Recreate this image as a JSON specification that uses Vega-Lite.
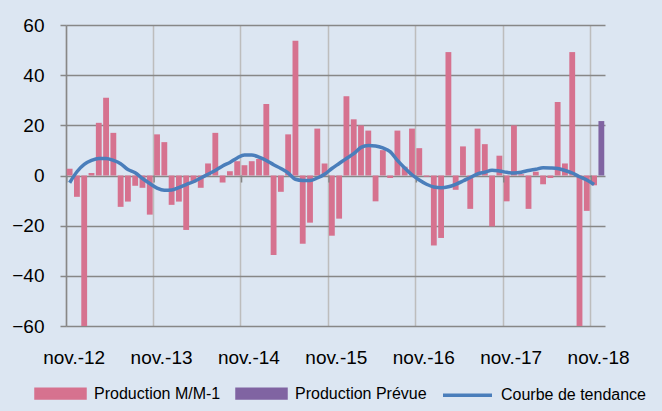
{
  "$schema": "https://vega.github.io/schema/vega-lite/v6.json",
  "width": 539,
  "height": 301,
  "autosize": "none",
  "padding": {"left": 66, "top": 25, "right": 57, "bottom": 85},
  "background": "#dce6f2",
  "config": {"view": {"stroke": null}, "font": "Liberation Sans"},
  "data": {"values": [
    {"m": "2012-11", "v": 2.7, "s": "Production M/M-1", "t": -2.9},
    {"m": "2012-12", "v": -8.5, "s": "Production M/M-1", "t": 1.5},
    {"m": "2013-01", "v": -60, "s": "Production M/M-1", "t": 4.4},
    {"m": "2013-02", "v": 1.0, "s": "Production M/M-1", "t": 6.0},
    {"m": "2013-03", "v": 21, "s": "Production M/M-1", "t": 6.8},
    {"m": "2013-04", "v": 31, "s": "Production M/M-1", "t": 6.8},
    {"m": "2013-05", "v": 17, "s": "Production M/M-1", "t": 6.0},
    {"m": "2013-06", "v": -12.5, "s": "Production M/M-1", "t": 4.7},
    {"m": "2013-07", "v": -10.4, "s": "Production M/M-1", "t": 2.4},
    {"m": "2013-08", "v": -4.1, "s": "Production M/M-1", "t": 1.1},
    {"m": "2013-09", "v": -4.9, "s": "Production M/M-1", "t": -1.2},
    {"m": "2013-10", "v": -15.6, "s": "Production M/M-1", "t": -3.2},
    {"m": "2013-11", "v": 16.4, "s": "Production M/M-1", "t": -5.0},
    {"m": "2013-12", "v": 13.3, "s": "Production M/M-1", "t": -5.9},
    {"m": "2014-01", "v": -11.7, "s": "Production M/M-1", "t": -5.8},
    {"m": "2014-02", "v": -10.4, "s": "Production M/M-1", "t": -4.8},
    {"m": "2014-03", "v": -21.7, "s": "Production M/M-1", "t": -3.6},
    {"m": "2014-04", "v": -2.8, "s": "Production M/M-1", "t": -2.5},
    {"m": "2014-05", "v": -4.9, "s": "Production M/M-1", "t": -1.0},
    {"m": "2014-06", "v": 4.8, "s": "Production M/M-1", "t": 0.5},
    {"m": "2014-07", "v": 17, "s": "Production M/M-1", "t": 2.0},
    {"m": "2014-08", "v": -2.8, "s": "Production M/M-1", "t": 3.8},
    {"m": "2014-09", "v": 1.7, "s": "Production M/M-1", "t": 5.2},
    {"m": "2014-10", "v": 5.7, "s": "Production M/M-1", "t": 7.0},
    {"m": "2014-11", "v": 4.1, "s": "Production M/M-1", "t": 8.2},
    {"m": "2014-12", "v": 5.7, "s": "Production M/M-1", "t": 8.2},
    {"m": "2015-01", "v": 6.6, "s": "Production M/M-1", "t": 7.3},
    {"m": "2015-02", "v": 28.5, "s": "Production M/M-1", "t": 6.0},
    {"m": "2015-03", "v": -31.7, "s": "Production M/M-1", "t": 4.3},
    {"m": "2015-04", "v": -6.5, "s": "Production M/M-1", "t": 2.8},
    {"m": "2015-05", "v": 16.4, "s": "Production M/M-1", "t": 1.0},
    {"m": "2015-06", "v": 53.7, "s": "Production M/M-1", "t": -1.5},
    {"m": "2015-07", "v": -27.2, "s": "Production M/M-1", "t": -2.0},
    {"m": "2015-08", "v": -18.8, "s": "Production M/M-1", "t": -2.0},
    {"m": "2015-09", "v": 18.7, "s": "Production M/M-1", "t": -1.0},
    {"m": "2015-10", "v": 4.8, "s": "Production M/M-1", "t": 0.5},
    {"m": "2015-11", "v": -24, "s": "Production M/M-1", "t": 2.8},
    {"m": "2015-12", "v": -17.2, "s": "Production M/M-1", "t": 4.8},
    {"m": "2016-01", "v": 31.6, "s": "Production M/M-1", "t": 6.8},
    {"m": "2016-02", "v": 22.4, "s": "Production M/M-1", "t": 8.7},
    {"m": "2016-03", "v": 20, "s": "Production M/M-1", "t": 11.2},
    {"m": "2016-04", "v": 17.9, "s": "Production M/M-1", "t": 12.0},
    {"m": "2016-05", "v": -10.3, "s": "Production M/M-1", "t": 11.8},
    {"m": "2016-06", "v": 10.1, "s": "Production M/M-1", "t": 11.0},
    {"m": "2016-07", "v": -1, "s": "Production M/M-1", "t": 9.5},
    {"m": "2016-08", "v": 17.9, "s": "Production M/M-1", "t": 6.0},
    {"m": "2016-09", "v": 3.5, "s": "Production M/M-1", "t": 3.0},
    {"m": "2016-10", "v": 18.7, "s": "Production M/M-1", "t": 0.3},
    {"m": "2016-11", "v": 10.9, "s": "Production M/M-1", "t": -1.8},
    {"m": "2016-12", "v": -0.5, "s": "Production M/M-1", "t": -3.5},
    {"m": "2017-01", "v": -27.9, "s": "Production M/M-1", "t": -4.6},
    {"m": "2017-02", "v": -24.9, "s": "Production M/M-1", "t": -4.9},
    {"m": "2017-03", "v": 49.2, "s": "Production M/M-1", "t": -4.5},
    {"m": "2017-04", "v": -5.7, "s": "Production M/M-1", "t": -3.5},
    {"m": "2017-05", "v": 11.6, "s": "Production M/M-1", "t": -2.2},
    {"m": "2017-06", "v": -13.3, "s": "Production M/M-1", "t": -0.8},
    {"m": "2017-07", "v": 18.7, "s": "Production M/M-1", "t": 0.6},
    {"m": "2017-08", "v": 12.5, "s": "Production M/M-1", "t": 1.3},
    {"m": "2017-09", "v": -20.3, "s": "Production M/M-1", "t": 2.1},
    {"m": "2017-10", "v": 7.9, "s": "Production M/M-1", "t": 1.8},
    {"m": "2017-11", "v": -10.3, "s": "Production M/M-1", "t": 1.3},
    {"m": "2017-12", "v": 20, "s": "Production M/M-1", "t": 1.0},
    {"m": "2018-01", "v": 0.5, "s": "Production M/M-1", "t": 1.3},
    {"m": "2018-02", "v": -13.3, "s": "Production M/M-1", "t": 2.0},
    {"m": "2018-03", "v": 1.5, "s": "Production M/M-1", "t": 2.5},
    {"m": "2018-04", "v": -3.5, "s": "Production M/M-1", "t": 3.1},
    {"m": "2018-05", "v": -1, "s": "Production M/M-1", "t": 3.0},
    {"m": "2018-06", "v": 29.3, "s": "Production M/M-1", "t": 2.8},
    {"m": "2018-07", "v": 4.8, "s": "Production M/M-1", "t": 2.0},
    {"m": "2018-08", "v": 49.2, "s": "Production M/M-1", "t": 1.0},
    {"m": "2018-09", "v": -60, "s": "Production M/M-1", "t": -0.5},
    {"m": "2018-10", "v": -14.1, "s": "Production M/M-1", "t": -1.8},
    {"m": "2018-11", "v": -3.9, "s": "Production M/M-1", "t": -3.6},
    {"m": "2018-12", "v": 21.7, "s": "Production Prévue", "t": null}
  ]},
  "encoding": {
    "x": {
      "field": "m",
      "type": "ordinal",
      "scale": {"paddingInner": 0.2, "paddingOuter": 0.1},
      "axis": {
        "title": null,
        "values": ["2012-11", "2013-11", "2014-11", "2015-11", "2016-11", "2017-11", "2018-11"],
        "labelExpr": "'nov.-' + slice(datum.value, 2, 4)",
        "bandPosition": -0.1,
        "labelOffset": 4.5,
        "labelAngle": 0,
        "labelAlign": "center",
        "labelFontSize": 19,
        "labelColor": "#000000",
        "labelPadding": 22,
        "domain": false,
        "ticks": false,
        "grid": true,
        "gridColor": "#bdbdbd",
        "gridWidth": 1.5
      }
    }
  },
  "layer": [
    {
      "mark": {"type": "bar"},
      "encoding": {
        "y": {
          "field": "v",
          "type": "quantitative",
          "scale": {"domain": [-60, 60]},
          "axis": {
            "title": null,
            "values": [-60, -40, -20, 0, 20, 40, 60],
            "grid": true,
            "gridColor": "#878787",
            "gridWidth": 1.5,
            "domainColor": "#878787",
            "domainWidth": 1.5,
            "tickColor": "#878787",
            "tickSize": 6,
            "tickWidth": 1.5,
            "labelFontSize": 19,
            "labelColor": "#000000",
            "labelPadding": 16
          }
        },
        "color": {
          "field": "s",
          "type": "nominal",
          "scale": {
            "domain": ["Production M/M-1", "Production Prévue", "Courbe de tendance"],
            "range": ["#d6728f", "#8064a2", "#4a7ebb"]
          },
          "legend": {
            "title": null,
            "orient": "none",
            "direction": "horizontal",
            "legendX": -32,
            "legendY": 342,
            "symbolType": "M-1,-0.18H1V0.18H-1Z",
            "symbolSize": 2401,
            "labelFontSize": 16,
            "labelColor": "#000000",
            "labelOffset": 7,
            "columnPadding": 9,
            "encode": {
              "symbols": {
                "update": {
                  "shape": {"signal": "datum.value === 'Courbe de tendance' ? 'stroke' : 'M-1,-0.18H1V0.18H-1Z'"},
                  "fill": {"signal": "datum.value === 'Production M/M-1' ? '#d6728f' : (datum.value === 'Production Prévue' ? '#8064a2' : 'transparent')"},
                  "stroke": {"signal": "datum.value === 'Courbe de tendance' ? '#4a7ebb' : 'transparent'"},
                  "strokeWidth": {"value": 3.5},
                  "opacity": {"value": 1}
                }
              }
            }
          }
        }
      }
    },
    {
      "transform": [{"filter": "slice(datum.m, 5) === '11'"}],
      "mark": {"type": "rule", "color": "#878787", "strokeWidth": 1.5},
      "encoding": {
        "x": {"field": "m", "type": "ordinal", "bandPosition": 0},
        "y": {"datum": 0, "type": "quantitative"},
        "y2": {"datum": -2.8}
      }
    },
    {
      "transform": [{"filter": "datum.t != null"}],
      "mark": {"type": "line", "strokeWidth": 3.5, "interpolate": "monotone"},
      "encoding": {
        "x": {"field": "m", "type": "ordinal"},
        "y": {"field": "t", "type": "quantitative"},
        "color": {"datum": "Courbe de tendance", "type": "nominal"}
      }
    }
  ]
}
